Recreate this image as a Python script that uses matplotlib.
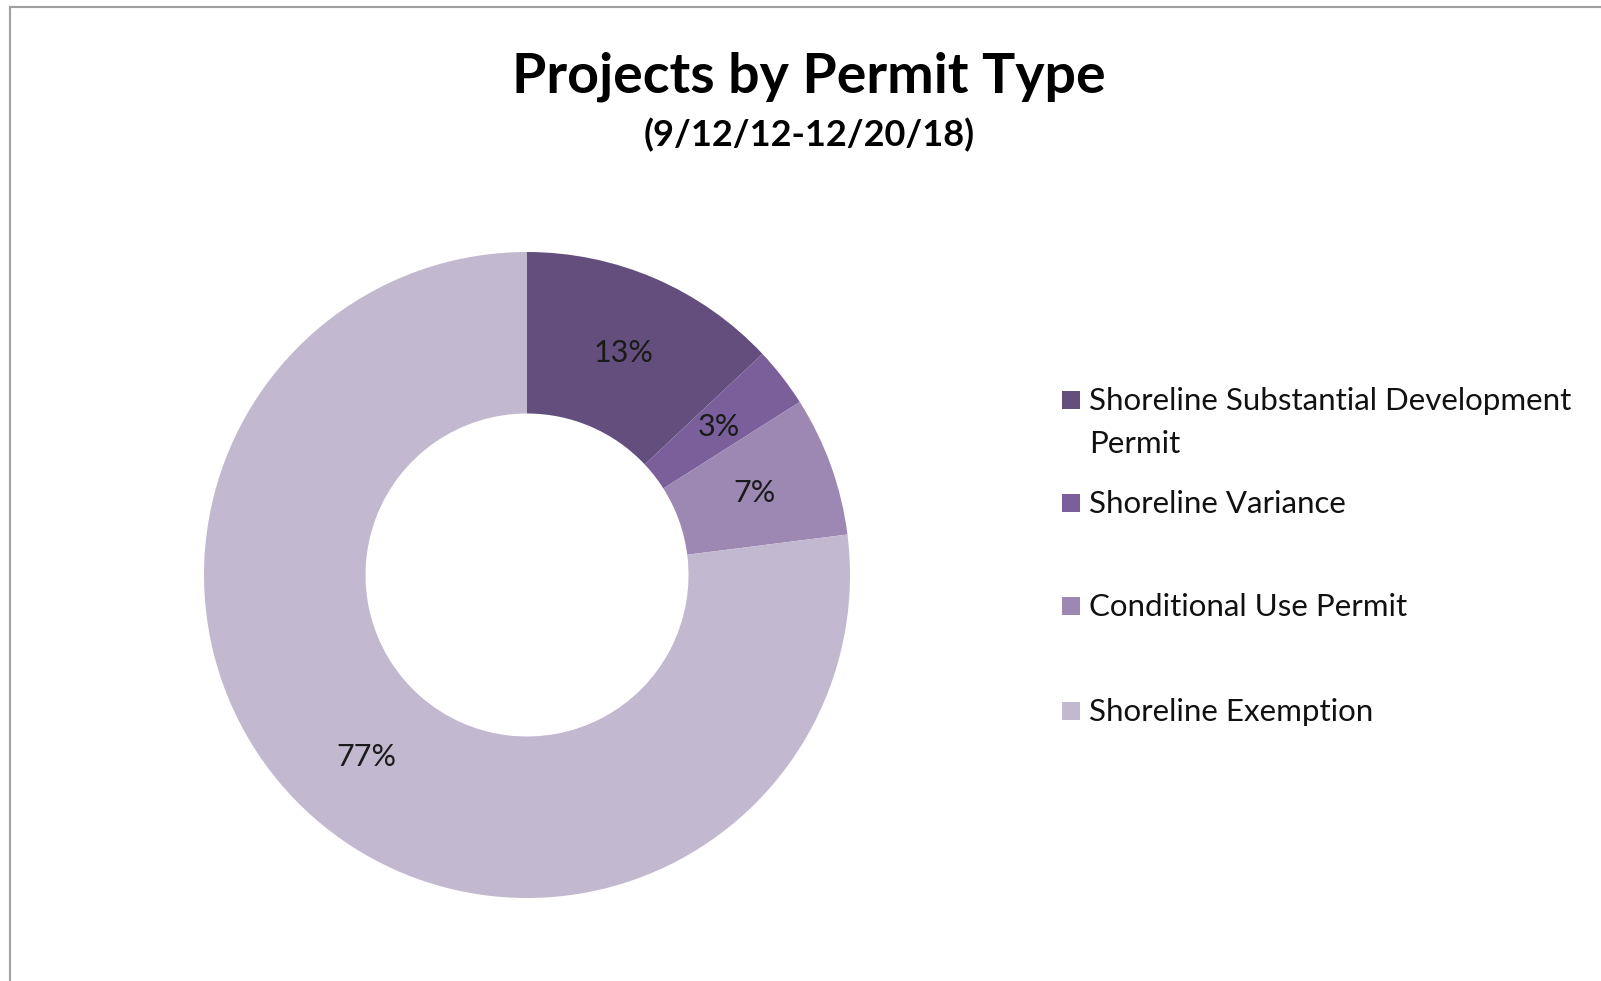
import matplotlib
matplotlib.use("Agg")
import matplotlib.pyplot as plt
from matplotlib.patches import Rectangle
from matplotlib.lines import Line2D

TITLE = "Projects by Permit Type"
SUBTITLE = "(9/12/12-12/20/18)"
permit_types = ["Shoreline Substantial Development\nPermit", "Shoreline Variance",
                "Conditional Use Permit", "Shoreline Exemption"]
shares = [13, 3, 7, 77]
colors = ["#634E7D", "#7A5F9B", "#9C88B3", "#C2B8D0"]

W, H = 1601, 981
plt.rcParams['font.family'] = ['Lato', 'DejaVu Sans']

fig = plt.figure(figsize=(W / 100, H / 100), dpi=100)

# donut, centre ~ (527, 575) px, outer radius ~323 px
cx, cy, r = 527, 575, 323
ax = fig.add_axes([(cx - r) / W, (H - cy - r) / H, 2 * r / W, 2 * r / H])
wedges, _, pcts = ax.pie(shares, colors=colors, startangle=90, counterclock=False,
                         autopct='%1.0f%%', pctdistance=0.75, radius=1,
                         wedgeprops=dict(width=0.5, edgecolor='none'))
for t in pcts:
    t.set_fontsize(22)
    t.set_color("#1a1a1a")
ax.set_xlim(-1, 1)
ax.set_ylim(-1, 1)
ax.set_aspect('equal')
ax.axis('off')

fig.text(809 / W, 1 - 77 / H, TITLE, ha='center', va='center',
         fontsize=40, fontweight='bold')
fig.text(809 / W, 1 - 135 / H, SUBTITLE, ha='center', va='center',
         fontsize=26, fontweight='bold')

# legend, drawn by hand to keep Excel's uneven spacing
legend_y = [401, 504, 607, 712]
line_gap = 43
for lab, col, y in zip(permit_types, colors, legend_y):
    fig.patches.append(Rectangle((1062 / W, 1 - (y + 8) / H), 18 / W, 18 / H,
                                 transform=fig.transFigure, facecolor=col,
                                 edgecolor='none'))
    for i, line in enumerate(lab.split('\n')):
        fig.text(1089 / W, 1 - (y + i * line_gap) / H, line, ha='left',
                 va='center', fontsize=22.5, color="#111111")

# outer chart frame (only left and top edges visible)
fig.add_artist(Line2D([10 / W, 10 / W], [0, 1 - 7 / H], color="#A0A0A0", lw=1.5))
fig.add_artist(Line2D([10 / W, 1], [1 - 7 / H, 1 - 7 / H], color="#A0A0A0", lw=1.5))

fig.savefig("out.png", dpi=100)
